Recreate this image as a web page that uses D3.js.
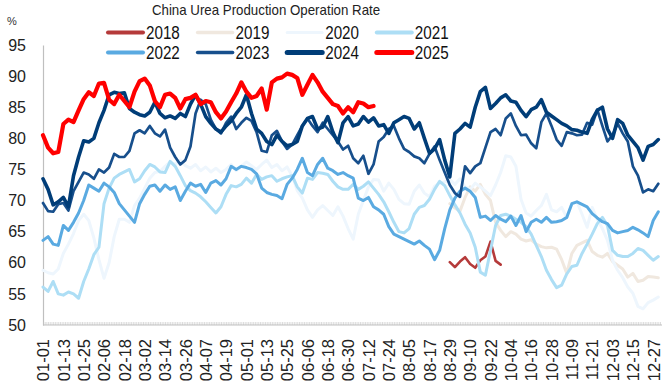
<!DOCTYPE html>
<html><head><meta charset="utf-8">
<script src="https://cdn.jsdelivr.net/npm/d3@7"></script>
<style>
body{margin:0;background:#fff}
svg{display:block}
text{font-family:"Liberation Sans",Arial,Helvetica,sans-serif}
</style>
</head><body>
<svg id="chart" width="667" height="392"></svg>
<script>
// ---------- DATA ----------
// categories: every day of a (non-leap) year as MM-DD
const categories = d3.timeDay.range(new Date(2023,0,1), new Date(2024,0,1)).map(d3.timeFormat("%m-%d"));
const tickLabels = categories.filter((d,i) => i % 12 === 0);
const yTicks = [50,55,60,65,70,75,80,85,90,95];
const seriesNames = ["2018","2019","2020","2021","2022","2023","2024","2025"];
const sampleStep = 3;               // values read every 3rd day
const seriesStartDay = [240,240,0,0,0,0,0,0];

const v2018 = [60.1,59.3,60.2,60.9,59.8,59.2,60.4,61,63.4,60.3,59.7];
const v2019 = [69.5,68.8,68.3,70.5,72.2,71.5,72.6,71,70,66.5,
  65.2,64.2,65,64.6,63.8,63.5,63.7,63,62.6,62.4,
  62.5,62.2,60.5,58.3,61.5,62.8,63.2,63.6,61.8,61.2,
  60.9,61.5,60.2,59.6,59,57.7,58.3,57,57.2,57.8,
  57.7,57.6];
const v2020 = [58.8,58.4,58.2,59,61.5,63,64.7,66.8,67.8,66.8,
  64,60.5,57.5,60,64.2,67,67,66.5,69.2,70.4,
  72,73.6,74.5,74.7,75.5,76.2,75.8,76.5,75.6,75.2,
  75.8,74.8,75.4,74.6,75.2,74.5,75,75.8,74.8,75.5,
  76.2,75.6,75,75.8,76.5,75.3,75.8,74.8,75.4,74,
  71.6,70.4,68.5,67.3,68.5,69.2,68.4,67.6,69,67.5,
  65.5,63.8,67.8,70,72.2,73.4,73.3,71.5,72.8,71.8,
  70.2,69.5,69.4,71.5,72.5,71.2,70.6,72.3,72.8,73,
  73.4,72.6,73.5,72.2,71.8,72.8,72.2,71.5,70.8,72.5,
  74.5,77.2,77,75.5,70.2,68,67.5,68.4,69.2,71,
  68.5,68.2,68.9,67.3,69.5,69.8,67.8,65.7,68.9,67,
  65.5,63.6,60.4,58.8,57.6,56.1,55.1,53,52.6,53.6,
  54,54.5];
const v2021 = [56.1,55.4,57,55,54.8,55.3,55,54.3,57,59,
  61.3,62.5,69.5,72,73.6,74.2,74.6,75,73,73.5,
  74.8,75.8,75.4,74.6,74.5,76.3,75.5,74,72.4,71.6,
  71.2,70.6,69.8,68.9,68,69,71,72.4,72.2,72.6,
  73.6,72.8,74.2,73.4,73.8,74,73.1,73.5,73.8,74,
  72.2,71.2,73.6,73.4,74.5,74.4,74.2,73.1,72.2,71.8,
  71.8,72.6,71.8,72.3,73,72,71,69.8,68.2,66.5,
  65,64.8,65.5,67.8,68.9,69.2,70.2,71.8,73.1,72.4,
  70.8,69.3,68,66.2,64.8,62.5,58.5,58,62,66,
  67.6,67.8,67.5,67,66.5,65.8,64.6,62.8,61,58.8,
  57.3,56,56.4,58.2,59.4,59.6,61.5,63,64.6,66.3,
  67.3,66,62,61.2,61,61,61.5,62.3,62,61.2,
  60.4,61];
const v2022 = [63.6,64.2,63,62.8,66,65.2,66.5,68,70,72.5,
  72,71.5,72.8,72.2,71.3,69.5,68.5,67.5,66.5,69.5,
  71,72.3,72.5,71.5,72.5,71.8,72.2,70,71.5,72.8,
  72.3,72.6,71.3,72.8,73.2,72.5,73.5,75.5,75,75.5,
  75.3,75,74.3,72,71.3,71,70.8,70.3,72.6,73.6,
  75,76.8,74.5,74,75.8,76.8,75.2,74.8,74.2,74.5,
  74,73.6,70.4,70,70.5,69,68.5,67.8,65.8,64.6,
  64.2,63.8,63.4,63,63.5,62.8,62.2,60.5,62,65.5,
  68.5,70.4,71.5,72,71.5,70.5,67.3,67.5,66.8,67.6,
  67,66.6,67.5,66,67.6,65,66.5,67,66.5,67.3,
  66.5,66.6,66.8,67.3,69.5,69.8,69.4,69,67.9,67.2,
  66.6,66.3,65.2,64.8,65,65.2,65.7,65.3,64.8,64.2,
  66.8,68.2];
const v2023 = [69.6,68.3,68.2,69.4,69.6,68.4,71.5,73,74.5,74.2,
  73.5,75,74.5,75.3,77.5,77,77,78,80.8,81.3,
  80.8,82,80.8,80.3,81.4,78.5,77,75.8,76.5,78.7,
  84,86.2,85.5,83,81.5,80.8,82.5,83.5,81.5,82.5,
  83.3,82.8,81,78,77.8,80.5,81.2,79.5,78.3,79,
  80.5,82,83.2,82,81,82.5,81.5,80.5,79.5,78.2,
  78.8,76.8,76,77.2,74.3,75.8,79.5,80.2,81.5,82,
  80,78.3,77.8,77.1,76.8,76,77.5,78.7,76.5,74.5,
  72.5,71.2,70.6,75.5,74.4,75.5,76,78.5,81,81.5,
  80.5,83.2,84,82,80.5,80.6,79.2,78.4,82.6,84,
  82,79.8,78.8,81,80.8,80.5,80.6,82.5,82.2,84.6,
  82,79.5,80.5,82.4,80.8,79.5,75.5,74,71.3,71.8,
  71.5,72.7];
const v2024 = [73.5,71.8,69.3,69.8,70.5,69,74,77,79.6,79.4,
  80,82.5,84.5,87,87.4,87.2,87.3,84.8,84.2,83.8,
  83.6,84.2,85.8,84,83.3,83.6,83.2,84,83.5,85.5,
  87,85.5,83.5,82.4,81.5,81,82,82.8,84,85,
  87,84,81.5,80.8,79.5,79,80.5,79.5,78.8,79,
  79.5,82,83.2,83.5,81.5,81.8,83.5,81,79.3,82.5,
  83.5,82,82.3,83.5,82.6,83.3,82,82.2,80.8,82.5,
  83,83.5,83.2,81.5,82.5,80,77.6,78.3,79.8,76.5,
  73.8,80.8,81.5,82.4,81.8,85,87.5,88.2,84.8,85.6,
  86.5,87,86,85.8,84.5,83.5,84.6,85,86.2,84.2,
  83.6,83,82.4,82,81.4,81.3,81,80.8,83,84.5,
  85,81.5,80,83,82.4,80.5,79.5,78.5,76.5,78.7,
  79,79.8];
const v2025 = [80.5,78.5,77.6,77.8,82.3,83,82.6,84.5,86.3,87.4,
  86.8,88.8,88.9,86.2,85.5,87,86,85,87.5,89.2,
  89.6,88.5,86,85,87,87.2,86.5,84.8,86.3,86.5,
  87,85.5,86,85.8,84.2,83.2,84.3,85.8,87.2,89,
  87.5,86.5,86.8,88,84.6,89,89.6,89.8,90.4,90.2,
  89.7,87,88.6,90.2,89,87.5,86.5,85.5,85.2,84,
  85,84.2,85.8,85.6,85,85.2];
const seriesValues = [v2018,v2019,v2020,v2021,v2022,v2023,v2024,v2025];

// ---------- STYLE ----------
const colors = ["#b53a3a","#f0e8df","#eef6fd","#addef5","#5aaae1","#174f8c","#003d78","#ff0000"];
const lineW  = [2.6,3,3,3,3,2.7,3.6,4.2];
const legendW= [4,3.5,3,4,4,3.5,5,5];

const svg = d3.select("#chart");
const M = {left:43, right:660, top:45, bottom:325};

const x = d3.scalePoint().domain(categories).range([M.left, M.right]);
const y = d3.scaleLinear().domain([50,95]).range([M.bottom, M.top]);

// title
svg.append("text").attr("transform","translate(266,15) scale(0.95,1)")
  .attr("text-anchor","middle").attr("font-size",14).attr("fill","#222")
  .text("China Urea Production Operation Rate");
svg.append("text").attr("x",12).attr("y",25).attr("text-anchor","middle")
  .attr("font-size",11).attr("fill","#333").text("%");

// legend
seriesNames.forEach((name,i)=>{
  const col = i%4, row = Math.floor(i/4);
  const x1 = 108 + col*89.6, yy = 32.5 + row*20;
  svg.append("line").attr("x1",x1).attr("x2",x1+35).attr("y1",yy).attr("y2",yy)
    .attr("stroke",colors[i]).attr("stroke-width",legendW[i]).attr("stroke-linecap","round");
  svg.append("text").attr("transform",`translate(${x1+38},${yy+6.5}) scale(0.8,1)`)
    .attr("font-size",19).attr("fill","#111").text(name);
});

// y axis
const yAxis = svg.append("g").attr("transform",`translate(${M.left},0)`)
  .call(d3.axisLeft(y).tickValues(yTicks).tickSize(0).tickPadding(17));
yAxis.select(".domain").attr("stroke","#bfbfbf").attr("stroke-width",1.2);
yAxis.selectAll("text").attr("font-size",16).attr("fill","#222")
  .attr("font-family","'Liberation Sans',Arial,sans-serif");

// x axis: dense inner ticks
const xTicks = svg.append("g").attr("transform",`translate(0,${M.bottom})`)
  .call(d3.axisTop(x).tickValues(categories).tickSize(3).tickFormat(""));
xTicks.select(".domain").remove();
xTicks.selectAll(".tick line").attr("stroke","#c4c4c4").attr("stroke-width",0.6);
svg.append("line").attr("x1",M.left).attr("x2",M.right+2).attr("y1",M.bottom).attr("y2",M.bottom)
  .attr("stroke","#bfbfbf").attr("stroke-width",1.2);

// x labels
const xAxis = svg.append("g").attr("transform",`translate(0,${M.bottom})`)
  .call(d3.axisBottom(x).tickValues(tickLabels).tickSize(0));
xAxis.select(".domain").remove();
xAxis.selectAll("text")
  .attr("transform","rotate(-90)")
  .attr("x",-14).attr("y",0).attr("dy","0.35em")
  .attr("text-anchor","end").attr("font-size",16.5).attr("fill","#222")
  .attr("font-family","'Liberation Sans',Arial,sans-serif");

// lines
const line = d3.line().x(d=>x(d.c)).y(d=>y(d.v));
seriesValues.forEach((vals,i)=>{
  const pts = vals.map((v,k)=>({c:categories[seriesStartDay[i]+k*sampleStep], v}));
  svg.append("path").datum(pts).attr("d",line).attr("fill","none")
    .attr("stroke",colors[i]).attr("stroke-width",lineW[i])
    .attr("stroke-linejoin","round").attr("stroke-linecap","round");
});
</script>
</body></html>
